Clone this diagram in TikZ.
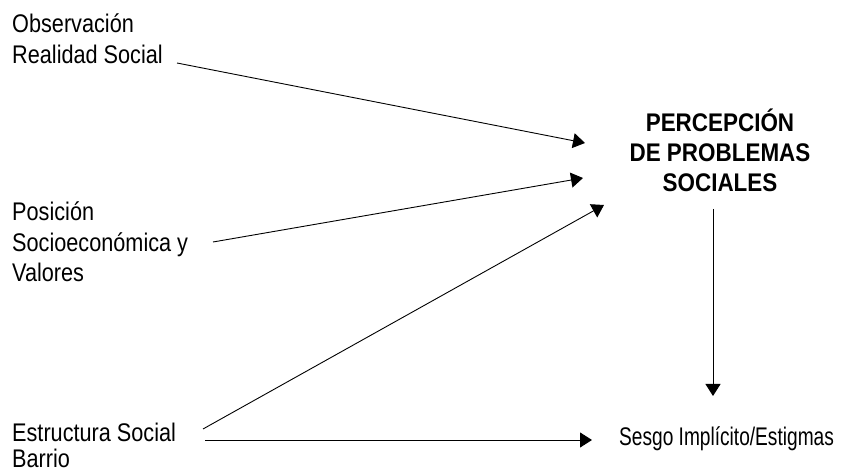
\documentclass[tikz,border=0pt]{standalone}
\usepackage{fontspec}
\setmainfont{Liberation Sans}[FakeStretch=0.85]
\newfontfamily\titlefont{Liberation Sans}[FakeStretch=0.88]
\newfontfamily\sesgofont{Liberation Sans}[FakeStretch=0.75]
\usetikzlibrary{arrows.meta,calc}
\begin{document}
\begin{tikzpicture}[x=1pt,y=-1pt,
  lbl/.style={inner sep=0pt,anchor=base west,font=\fontsize{25.5}{30.5}\selectfont},
  title/.style={inner sep=0pt,anchor=base,font=\fontsize{25.5}{30}\titlefont\bfseries},
  arr/.style={line width=0.9pt,-{Triangle[length=12pt,width=15pt]}}]
\useasboundingbox (0,0) rectangle (847,470);
\node[lbl] (obs) at (12,33) {\begin{tabular}[t]{@{}l@{}}Observación\\Realidad Social\end{tabular}};
\node[lbl] (pos) at (12,221) {\begin{tabular}[t]{@{}l@{}}Posición\\Socioeconómica y\\Valores\end{tabular}};
\node[lbl] (est) at (12,442) {\begin{tabular}[t]{@{}l@{}}Estructura Social\\[-5pt]Barrio\end{tabular}};
\node[title] (perc) at (720,132) {\begin{tabular}[t]{@{}c@{}}PERCEPCIÓN\\DE PROBLEMAS\\SOCIALES\end{tabular}};
\node[lbl,font=\fontsize{25.5}{30}\sesgofont] (ses) at (619,446) {Sesgo Implícito/Estigmas};
\draw[arr] ($(obs.base west)+(165,30)$) -- ($(perc.base)+(-135,11)$);
\draw[arr] ($(pos.base west)+(201,21)$) -- ($(perc.base)+(-137,46)$);
\draw[arr] ($(est.base west)+(191,-13)$) -- ($(perc.base)+(-116,73)$);
\draw[arr] ($(est.base west)+(193,-2)$) -- ($(ses.base west)+(-27,-6)$);
\draw[arr] ($(perc.base)+(-7,77)$) -- ($(ses.base west)+(94,-50)$);
\end{tikzpicture}
\end{document}
